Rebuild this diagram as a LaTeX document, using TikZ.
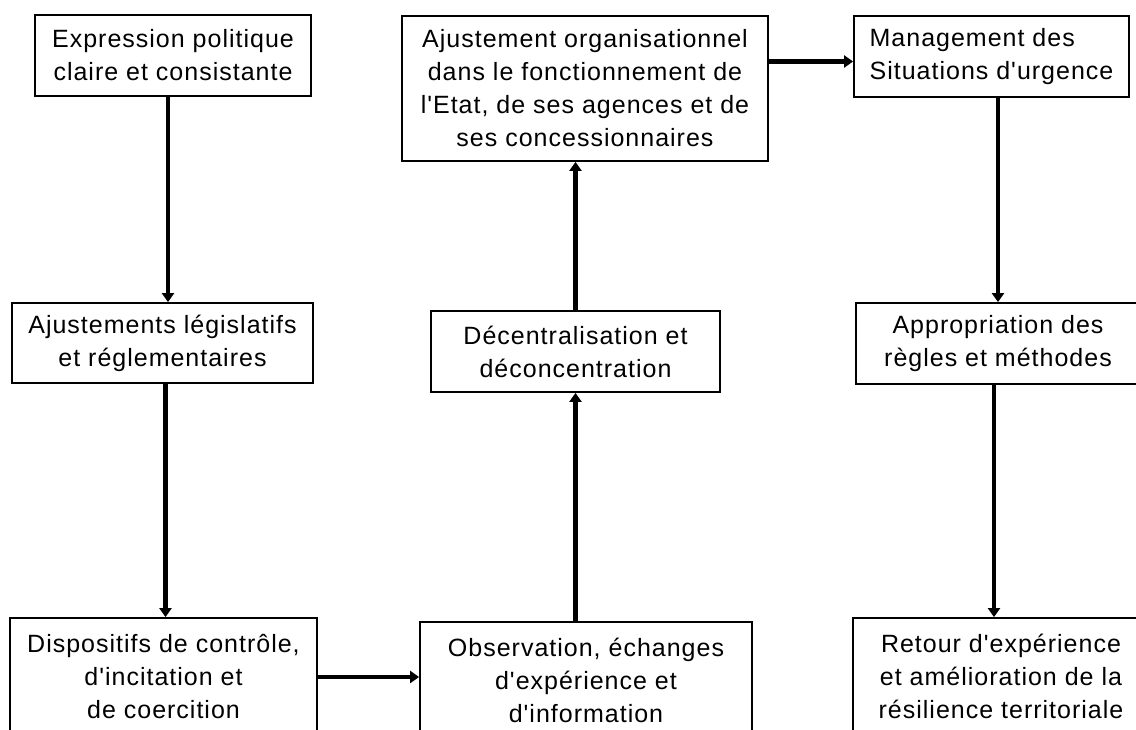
\documentclass[tikz,border=0pt]{standalone}
\usepackage{fontspec}
\newfontfamily\boxfont{Liberation Sans}[LetterSpace=4]
\usetikzlibrary{arrows.meta}
\tikzset{
  box/.style={draw, line width=1.8pt, inner sep=0pt, align=center,
    font=\boxfont\fontsize{25}{33}\selectfont},
  arr/.style={line width=4.5pt, -{Triangle[length=9pt,width=12pt]}}
}
\begin{document}
\begin{tikzpicture}[x=1pt,y=1pt]
\useasboundingbox (0,0) rectangle (1136,-729);
\clip (0,0) rectangle (1136,-729);
\node[box, minimum width=276pt, minimum height=81pt] (A) at (173,-55.5)
  {Expression politique\\claire et consistante};
\node[box, minimum width=366pt, minimum height=145pt] (B) at (585,-88.5)
  {Ajustement organisationnel\\dans le fonctionnement de\\l'Etat, de ses agences et de\\ses concessionnaires};
\node[box, align=left, minimum width=275pt, minimum height=81pt] (C) at (991.5,-56.5)
  {Management des\\Situations d'urgence};
\node[box, minimum width=301pt, minimum height=80pt] (D) at (162.5,-343)
  {Ajustements législatifs\\et réglementaires};
\node[box, minimum width=289pt, minimum height=81pt] (E) at (575.5,-351.5)
  {Décentralisation et\\déconcentration};
\node[box, minimum width=284pt, minimum height=81pt] (F) at (998,-343.5)
  {Appropriation des\\règles et méthodes};
\node[box, minimum width=307pt, minimum height=118pt] (G) at (163.5,-677)
  {Dispositifs de contrôle,\\d'incitation et\\de coercition};
\node[box, minimum width=332pt, minimum height=116pt] (H) at (586,-680)
  {Observation, échanges\\d'expérience et\\d'information};
\node[box, minimum width=296pt, minimum height=116pt] (I) at (1001,-676)
  {Retour d'expérience\\et amélioration de la\\résilience territoriale};
\draw[arr] ([xshift=-5pt]A.south) -- ([xshift=-5pt]A.south |- D.north);
\draw[arr] ([xshift=3pt]D.south) -- ([xshift=3pt]D.south |- G.north);
\draw[arr] (G.east) -- (G.east -| H.west);
\draw[arr] (E.south |- H.north) -- (E.south);
\draw[arr] (E.north) -- (E.north |- B.south);
\draw[arr] ([yshift=-5pt]C.west -| B.east) -- ([yshift=-5pt]C.west);
\draw[arr] (F.north |- C.south) -- (F.north);
\draw[arr] ([xshift=-4pt]F.south) -- ([xshift=-4pt]F.south |- I.north);
\end{tikzpicture}
\end{document}
